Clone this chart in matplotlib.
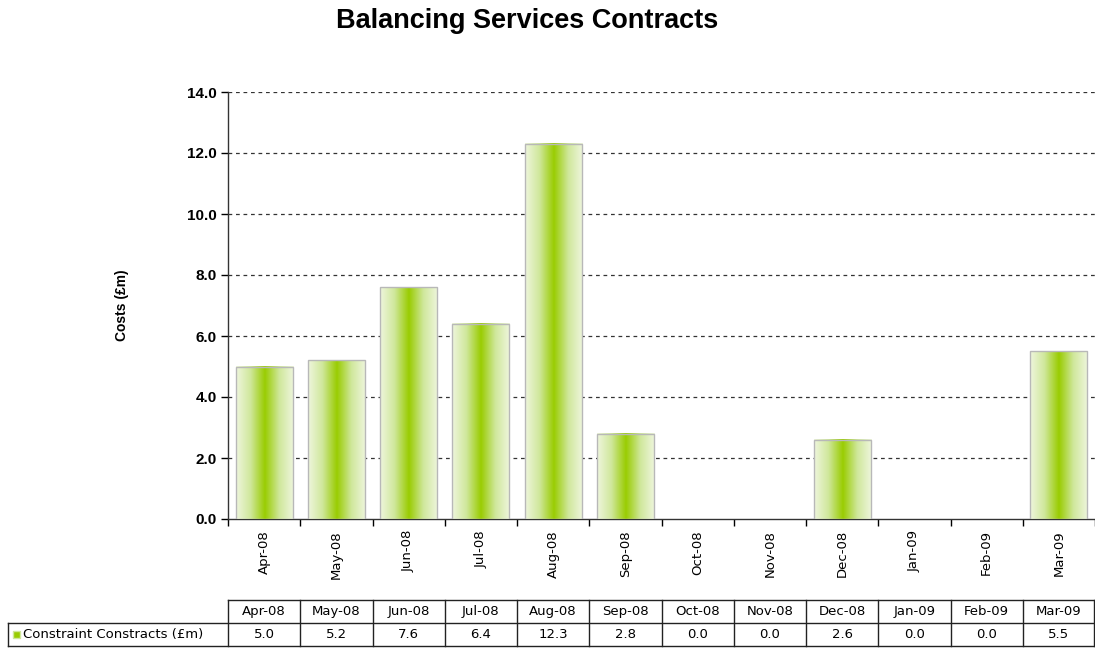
import matplotlib
matplotlib.use("Agg")
import matplotlib.pyplot as plt
import numpy as np
from matplotlib.colors import LinearSegmentedColormap
from matplotlib.patches import Rectangle

plt.rcParams["font.family"] = ["Liberation Sans", "DejaVu Sans"]

months = ["Apr-08", "May-08", "Jun-08", "Jul-08", "Aug-08", "Sep-08",
          "Oct-08", "Nov-08", "Dec-08", "Jan-09", "Feb-09", "Mar-09"]
costs = [5.0, 5.2, 7.6, 6.4, 12.3, 2.8, 0.0, 0.0, 2.6, 0.0, 0.0, 5.5]
series_name = "Constraint Constracts (£m)"
y_ticks = [0, 2, 4, 6, 8, 10, 12, 14]

W, H = 1095, 653
fig = plt.figure(figsize=(W / 100, H / 100), dpi=100)

ax_l, ax_r, ax_top, ax_bot = 228, 1095, 92, 519
ax = fig.add_axes([ax_l / W, (H - ax_bot) / H, (ax_r - ax_l) / W, (ax_bot - ax_top) / H])

n = len(months)
small_font = "DejaVu Sans"

# horizontal gradient: pale edges, bright green centre
grad = LinearSegmentedColormap.from_list(
    "bar", ["#eef6dc", "#cfe79a", "#99cc00", "#cfe79a", "#eef6dc"])
strip = np.linspace(0, 1, 64).reshape(1, -1)
bw = 0.79
for i, v in enumerate(costs):
    if v <= 0:
        continue
    x0 = i + (1 - bw) / 2
    ax.imshow(strip, cmap=grad, aspect="auto", extent=(x0, x0 + bw, 0, v),
              interpolation="bilinear", zorder=3)
    ax.add_patch(Rectangle((x0, 0), bw, v, fill=False, ec="#b8b8b8", lw=1.0, zorder=4))

ax.set_xlim(0, n)
ax.set_ylim(0, 14)

for y in y_ticks[1:]:
    ax.axhline(y, color="#333333", ls=(0, (3, 3)), lw=0.9, zorder=1)

ax.set_yticks(y_ticks)
ax.set_yticklabels([f"{t:.1f}" for t in y_ticks], fontsize=11, fontweight="bold")
ax.set_xticks(np.arange(n + 1))
ax.set_xticklabels([])
ax.set_xticks(np.arange(n) + 0.5, minor=True)
ax.set_xticklabels(months, minor=True, rotation=90, fontsize=9.5, family=small_font)
ax.tick_params(axis="x", which="minor", length=0, pad=8)
ax.tick_params(axis="x", which="major", length=5, width=1, direction="out")
ax.tick_params(axis="y", length=5, width=1, direction="out", pad=3)
for s in ("top", "right"):
    ax.spines[s].set_visible(False)
for s in ("left", "bottom"):
    ax.spines[s].set_color("#333333")
    ax.spines[s].set_linewidth(1.0)

ax.set_ylabel("Costs (£m)", fontsize=10, fontweight="bold", labelpad=42)

fig.text(527 / W, 1 - 21 / H, "Balancing Services Contracts", ha="center", va="center",
         fontsize=19.5, fontweight="bold")

# data table beneath the chart, drawn in pixel coordinates
tab = fig.add_axes([0, 0, 1, 1])
tab.set_xlim(0, W)
tab.set_ylim(H, 0)
tab.axis("off")
col_w = (ax_r - ax_l) / n
row1, row2, row3 = 600, 623, 646
lab_l = 8
lw = 1.0
tab.plot([ax_l, ax_r - 1], [row1, row1], color="#222222", lw=lw)
tab.plot([lab_l, ax_r - 1], [row2, row2], color="#222222", lw=lw)
tab.plot([lab_l, ax_r - 1], [row3, row3], color="#222222", lw=lw)
tab.plot([lab_l, lab_l], [row2, row3], color="#222222", lw=lw)
for j in range(n + 1):
    x = min(ax_l + j * col_w, ax_r - 1)
    tab.plot([x, x], [row1, row3], color="#222222", lw=lw)
for j, (m, v) in enumerate(zip(months, costs)):
    xc = ax_l + (j + 0.5) * col_w
    tab.text(xc, (row1 + row2) / 2, m, ha="center", va="center", fontsize=9.5, family=small_font)
    tab.text(xc, (row2 + row3) / 2, f"{v:.1f}", ha="center", va="center", fontsize=9.5,
             family=small_font)
tab.add_patch(Rectangle((13, 631), 7, 7, fc="#99cc00", ec="#cfe79a", lw=1))
tab.text(23, (row2 + row3) / 2, series_name, ha="left", va="center", fontsize=9.5,
         family=small_font)

fig.savefig("out.png", dpi=100)
